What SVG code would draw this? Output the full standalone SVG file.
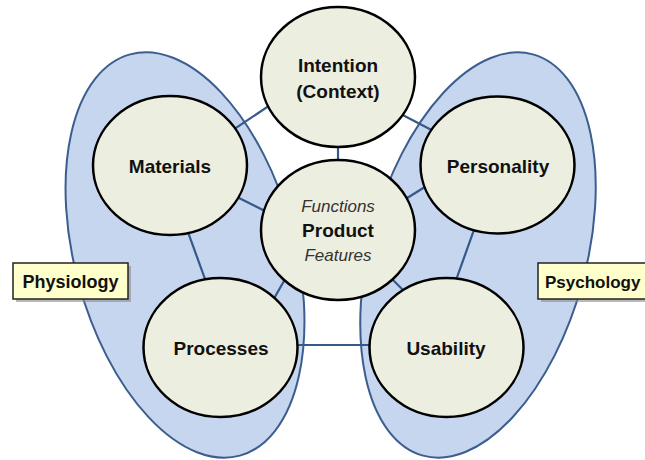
<svg xmlns="http://www.w3.org/2000/svg" width="645" height="460" viewBox="0 0 645 460">
<style>
.blob{fill:#c6d6ef;stroke:#3b5e8f;stroke-width:2}
.conn line{stroke:#34598a;stroke-width:2.2}
.node ellipse{fill:#eceee0;stroke:#000;stroke-width:2.5}
.lbl{font-family:"Liberation Sans",Arial,sans-serif;font-weight:bold;font-size:19px;fill:#111;text-anchor:middle}
.it{font-family:"Liberation Sans",Arial,sans-serif;font-style:italic;font-size:17px;fill:#333;text-anchor:middle}
.box{fill:#ffffcc;stroke:#222;stroke-width:1.5}
.shadow{fill:#8a8a8a;opacity:0.6}
.blbl{font-family:"Liberation Sans",Arial,sans-serif;font-weight:bold;font-size:18px;fill:#111}
</style>
<rect width="645" height="460" fill="#fff"/>
<g id="physiology-region">
<ellipse class="blob" cx="185" cy="255" rx="110" ry="208" transform="rotate(-15.3 185 255)"/>
</g>
<g id="psychology-region">
<ellipse class="blob" cx="478" cy="255" rx="108" ry="208" transform="rotate(15.3 478 255)"/>
</g>
<g id="connectors" class="conn">
<line x1="200" y1="152" x2="300" y2="85"/>
<line x1="370" y1="98" x2="470" y2="150"/>
<line x1="338" y1="100" x2="338" y2="200"/>
<line x1="200" y1="178.5" x2="300" y2="228.5"/>
<line x1="380" y1="215" x2="460" y2="165"/>
<line x1="180" y1="210" x2="212.6" y2="300"/>
<line x1="260" y1="323" x2="300" y2="253"/>
<line x1="280" y1="345" x2="390" y2="345"/>
<line x1="370" y1="257" x2="420" y2="307"/>
<line x1="450" y1="297" x2="485" y2="199"/>
</g>
<g id="intention" class="node">
<ellipse cx="338" cy="77" rx="77" ry="70"/>
<text class="lbl" x="338" y="72">Intention</text>
<text class="lbl" x="338" y="98">(Context)</text>
</g>
<g id="materials" class="node">
<ellipse cx="170" cy="165.5" rx="77" ry="69.5"/>
<text class="lbl" x="170" y="173">Materials</text>
</g>
<g id="personality" class="node">
<ellipse cx="497.5" cy="165" rx="77" ry="68.5"/>
<text class="lbl" x="498" y="173">Personality</text>
</g>
<g id="product" class="node">
<ellipse cx="338" cy="230" rx="77" ry="70"/>
<text class="it" x="338" y="212">Functions</text>
<text class="lbl" x="338" y="237">Product</text>
<text class="it" x="338" y="261">Features</text>
</g>
<g id="processes" class="node">
<ellipse cx="220.5" cy="347.5" rx="77" ry="69.5"/>
<text class="lbl" x="221" y="355">Processes</text>
</g>
<g id="usability" class="node">
<ellipse cx="446.5" cy="347.5" rx="77" ry="69.5"/>
<text class="lbl" x="446" y="355">Usability</text>
</g>
<g id="physiology-label">
<rect class="shadow" x="16" y="266" width="115" height="36"/>
<rect class="box" x="13" y="263" width="115" height="36"/>
<text class="blbl" x="70.5" y="288" text-anchor="middle">Physiology</text>
</g>
<g id="psychology-label">
<rect class="shadow" x="541" y="266" width="118" height="36"/>
<rect class="box" x="538" y="263" width="118" height="36"/>
<text class="blbl" x="545" y="288" style="font-size:17px">Psychology</text>
</g>
</svg>
